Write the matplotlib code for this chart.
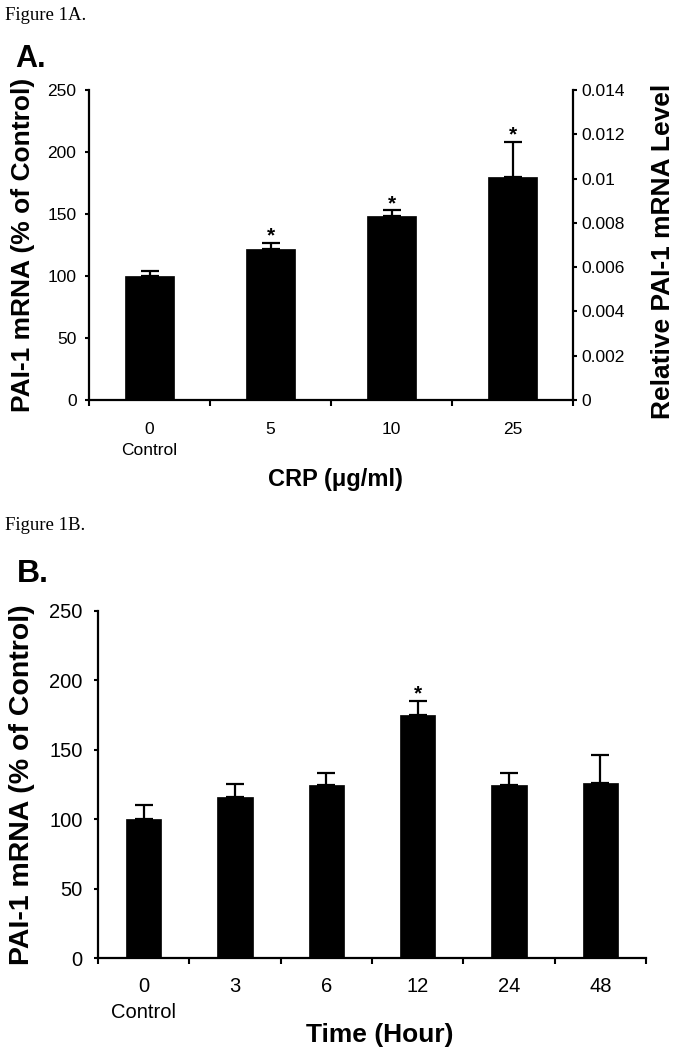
import matplotlib
matplotlib.use("Agg")
import matplotlib.pyplot as plt
from matplotlib.ticker import FormatStrFormatter, FixedLocator, NullFormatter
import numpy as np

plt.rcParams['font.family'] = ['Liberation Sans', 'DejaVu Sans']

# ---- Data ----
crp_labels = ["0\nControl", "5", "10", "25"]
crp_values = [100, 122, 148, 180]
crp_errors = [4, 5, 5, 28]
crp_sig = [False, True, True, True]

time_labels = ["0\nControl", "3", "6", "12", "24", "48"]
time_values = [100, 116, 124.5, 175, 124.5, 126]
time_errors = [10, 9, 8.5, 10, 8.5, 20]
time_sig = [False, False, False, True, False, False]

left_ticks = [0, 50, 100, 150, 200, 250]
right_ticks = [0, 0.002, 0.004, 0.006, 0.008, 0.01, 0.012, 0.014]

W, H = 676, 1050
fig = plt.figure(figsize=(W / 100, H / 100), dpi=100)


def fx(px):
    return px / W


def fy(py):
    return 1 - py / H


def panel(rect, labels, values, errors, sig, width, tick_fs, pad, ypad, ylabel_fs,
          xlabel, xlabel_fs, xlab_pos, ylab_x):
    ax = fig.add_axes(rect)
    n = len(values)
    x = np.arange(n) + 0.5
    ax.bar(x, values, width=width, color='black', edgecolor='black', linewidth=0.5,
           yerr=[np.zeros(n), errors], capsize=6.5,
           error_kw=dict(elinewidth=1.6, capthick=1.6, ecolor='black'))
    for xi, v, e, s in zip(x, values, errors, sig):
        if s:
            ax.annotate('*', (xi, v + e), xytext=(0, 1), textcoords='offset points',
                        ha='center', va='baseline', fontsize=15, fontweight='bold')
    ax.set_xlim(0, n)
    ax.set_ylim(0, 250)
    ax.xaxis.set_major_locator(FixedLocator(np.arange(n + 1)))
    ax.xaxis.set_major_formatter(NullFormatter())
    ax.xaxis.set_minor_locator(FixedLocator(x))
    ax.set_xticklabels(labels, minor=True, fontsize=tick_fs, linespacing=1.45)
    ax.tick_params(axis='x', which='major', direction='out', length=4, width=1.5)
    ax.tick_params(axis='x', which='minor', length=0, pad=pad)
    ax.set_yticks(left_ticks)
    ax.tick_params(axis='y', direction='out', length=3, width=1.5,
                   labelsize=tick_fs, pad=ypad)
    for s in ('top', 'right'):
        ax.spines[s].set_visible(False)
    for s in ('left', 'bottom'):
        ax.spines[s].set_linewidth(1.6)
    ax.text(ylab_x, 0.5, 'PAI-1 mRNA (% of Control)', transform=ax.transAxes,
            rotation=90, ha='center', va='center', fontsize=ylabel_fs,
            fontweight='bold')
    ax.text(xlab_pos[0], xlab_pos[1], xlabel, transform=ax.transAxes,
            ha='center', va='center', fontsize=xlabel_fs, fontweight='bold')
    return ax


# ---- Panel A ----
rectA = [fx(89), fy(400), fx(573 - 89), 310 / H]
axA = panel(rectA, crp_labels, crp_values, crp_errors, crp_sig, 0.41,
            12.5, 16, 6, 19, 'CRP (μg/ml)', 17, (0.51, -0.258), -0.136)
axA2 = axA.twinx()
axA2.set_ylim(0, 0.014)
axA2.set_yticks(right_ticks)
axA2.yaxis.set_major_formatter(FormatStrFormatter('%g'))
axA2.tick_params(axis='y', direction='out', length=3, width=1.5,
                 labelsize=12.5, pad=3)
for s in ('top', 'left', 'bottom'):
    axA2.spines[s].set_visible(False)
axA2.spines['right'].set_linewidth(1.6)
axA2.text(1.186, 0.48, 'Relative PAI-1 mRNA Level', transform=axA.transAxes,
          rotation=90, ha='center', va='center', fontsize=19, fontweight='bold')

# ---- Panel B ----
rectB = [fx(98), fy(958), fx(646 - 98), 347.3 / H]
axB = panel(rectB, time_labels, time_values, time_errors, time_sig, 0.39,
            14.5, 14, 8, 20.5, 'Time (Hour)', 19, (0.515, -0.222), -0.139)

# ---- Figure texts ----
fig.text(fx(5), fy(15), 'Figure 1A.', family='Liberation Serif', fontsize=13.5,
         ha='left', va='center')
fig.text(fx(15), fy(59), 'A.', fontsize=22, fontweight='bold', ha='left', va='center')
fig.text(fx(5), fy(526), 'Figure 1B.', family='Liberation Serif', fontsize=13.5,
         ha='left', va='center')
fig.text(fx(17), fy(574), 'B.', fontsize=23, fontweight='bold', ha='left', va='center')

fig.savefig('out.png', dpi=100, facecolor='white')
